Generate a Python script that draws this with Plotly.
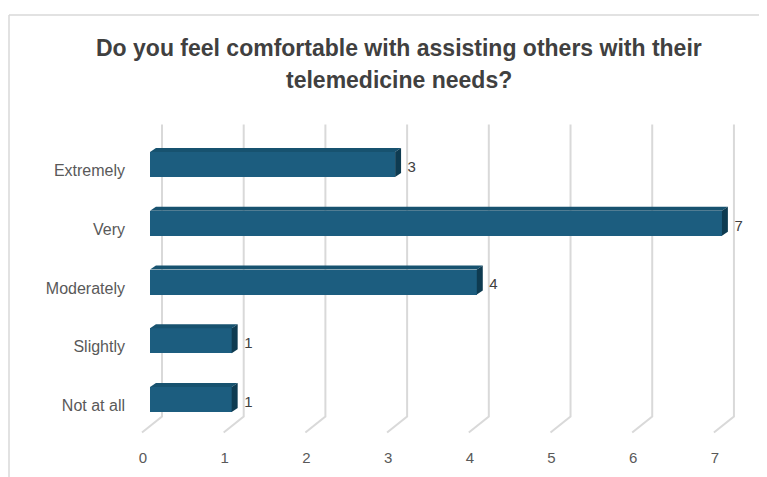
import plotly.graph_objects as go

categories = ["Not at all", "Slightly", "Moderately", "Very", "Extremely"]
values = [1, 1, 4, 7, 3]
x_ticks = [0, 1, 2, 3, 4, 5, 6, 7]
title_lines = ["Do you feel comfortable with assisting others with their",
               "telemedicine needs?"]

FONT = "Liberation Sans, Arial, sans-serif"
FRONT = "#1c5d7f"
TOP = "#17526f"
SIDE = "#0e3b51"
GRID = "#d9d9d9"

# page body adds an 8px offset; layout numbers below are screen targets
OFF = 8
W = 767; H = 477
plot_left, plot_right, plot_top, plot_bottom = 133, 760, 100, 446
ml = plot_left - OFF
mt = plot_top - OFF
mr = W - (plot_right - OFF)
mb = H - (plot_bottom - OFF)
pw = W - ml - mr
ph = H - mt - mb

xr = [-0.208, 7.466]
yr = [-0.791, 5.098]
half = 0.213          # half height of bar front face
tz = 0.068            # top-face thickness
dep = 0.073           # depth offset in x
g_back = 0.147        # back-wall gridline offset
g_front = -0.098      # floor front offset
y_top, y_fb, y_ff = 4.68, -0.29, -0.56

ypos = list(range(len(categories)))

fig = go.Figure()

# front faces
fig.add_trace(go.Bar(
    y=ypos, x=values, orientation="h", base=0, width=2 * half,
    marker=dict(color=FRONT, line=dict(width=0)), hoverinfo="skip", showlegend=False))

# top and side faces
for yi, v in zip(ypos, values):
    fig.add_trace(go.Scatter(
        x=[0, v, v + dep, dep, 0],
        y=[yi + half, yi + half, yi + half + tz, yi + half + tz, yi + half],
        fill="toself", fillcolor=TOP, mode="lines", line=dict(width=0),
        hoverinfo="skip", showlegend=False))
    fig.add_trace(go.Scatter(
        x=[v, v + dep, v + dep, v, v],
        y=[yi - half, yi - half + tz, yi + half + tz, yi + half, yi - half],
        fill="toself", fillcolor=SIDE, mode="lines", line=dict(width=0),
        hoverinfo="skip", showlegend=False))

# value labels
fig.add_trace(go.Scatter(
    x=[v + dep + 0.08 for v in values], y=[yi - 0.06 for yi in ypos],
    text=[str(v) for v in values], mode="text", textposition="middle right",
    textfont=dict(family=FONT, size=15, color="#404040"),
    hoverinfo="skip", showlegend=False))

# 3D-style gridlines (back wall + floor)
shapes = []
for t in x_ticks:
    path = (f"M {t + g_back} {y_top} L {t + g_back} {y_fb} L {t + g_front} {y_ff}")
    shapes.append(dict(type="path", path=path, xref="x", yref="y", layer="below",
                       line=dict(color=GRID, width=2)))

# chart frame (top and left edges)
fx = (1 - ml) / pw
fy = (H - mb - (15 - OFF)) / ph
shapes.append(dict(type="line", xref="paper", yref="paper", x0=fx, x1=1.2, y0=fy, y1=fy,
                   line=dict(color="#d9d9d9", width=1.5)))
shapes.append(dict(type="line", xref="paper", yref="paper", x0=fx, x1=fx, y0=-0.3, y1=fy,
                   line=dict(color="#d9d9d9", width=1.5)))

# title lines
annotations = []
for i, line in enumerate(title_lines):
    py = 48 + 32 * i - OFF
    annotations.append(dict(
        text=line, xref="paper", yref="paper", showarrow=False,
        x=(399 - OFF - ml) / pw, y=(H - mb - py) / ph, xanchor="center", yanchor="middle",
        font=dict(family=FONT, size=23, color="#404040", weight="bold")))

fig.update_layout(
    width=W, height=H,
    margin=dict(l=ml, r=mr, t=mt, b=mb, autoexpand=False),
    paper_bgcolor="white", plot_bgcolor="white",
    shapes=shapes, annotations=annotations,
    xaxis=dict(range=xr, tickvals=x_ticks, ticktext=[str(t) for t in x_ticks],
               showgrid=False, zeroline=False, showline=False, ticks="", automargin=False,
               ticklabelshift=-7, ticklabelstandoff=1,
               tickfont=dict(family=FONT, size=15, color="#595959"), fixedrange=True),
    yaxis=dict(range=yr, tickvals=ypos, ticktext=categories,
               showgrid=False, zeroline=False, showline=False, ticks="", automargin=False,
               ticklabelshift=6, ticklabelstandoff=7,
               tickfont=dict(family=FONT, size=16, color="#595959"), fixedrange=True),
    bargap=0,
)

fig.write_html("out.html")
